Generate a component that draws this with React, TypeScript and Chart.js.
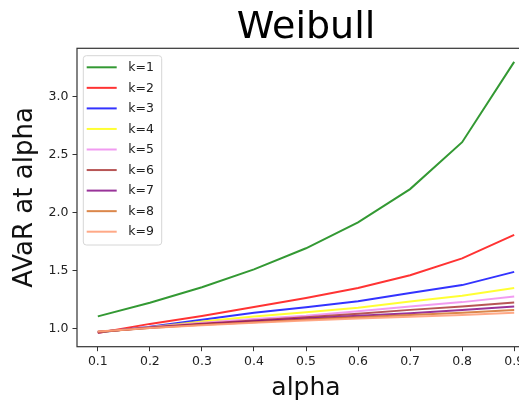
import React, { useEffect, useRef } from "react";
import { Chart, registerables } from "chart.js";

Chart.register(...registerables);

const alphas = [0.1, 0.2, 0.3, 0.4, 0.5, 0.6, 0.7, 0.8, 0.9];
const labels = ["k=1", "k=2", "k=3", "k=4", "k=5", "k=6", "k=7", "k=8", "k=9"];
const k1 = [1.105, 1.223, 1.357, 1.511, 1.693, 1.916, 2.204, 2.609, 3.303];
const k2 = [0.961, 1.04, 1.108, 1.185, 1.263, 1.35, 1.46, 1.606, 1.809];
const k3 = [0.965, 1.016, 1.075, 1.137, 1.184, 1.235, 1.306, 1.375, 1.489];
const k4 = [0.968, 1.012, 1.06, 1.103, 1.14, 1.18, 1.233, 1.283, 1.35];
const k5 = [0.97, 1.01, 1.05, 1.083, 1.111, 1.15, 1.19, 1.228, 1.277];
const k6 = [0.971, 1.008, 1.042, 1.07, 1.097, 1.127, 1.161, 1.19, 1.224];
const k7 = [0.972, 1.006, 1.036, 1.062, 1.087, 1.11, 1.132, 1.161, 1.19];
const k8 = [0.973, 1.005, 1.032, 1.055, 1.077, 1.097, 1.117, 1.137, 1.16];
const k9 = [0.974, 1.004, 1.028, 1.05, 1.07, 1.087, 1.102, 1.117, 1.137];
const series = [k1, k2, k3, k4, k5, k6, k7, k8, k9];
const colors = [
  "rgba(0,128,0,0.8)",
  "rgba(255,0,0,0.8)",
  "rgba(0,0,255,0.8)",
  "rgba(255,255,0,0.8)",
  "rgba(238,130,238,0.8)",
  "rgba(165,42,42,0.8)",
  "rgba(128,0,128,0.8)",
  "rgba(210,105,30,0.8)",
  "rgba(255,160,122,0.9)",
];
const xTicks = [0.1, 0.2, 0.3, 0.4, 0.5, 0.6, 0.7, 0.8, 0.9];
const yTicks = [1.0, 1.5, 2.0, 2.5, 3.0];

const FONT = "'DejaVu Sans', sans-serif";

const framePlugin = {
  id: "frame",
  afterDatasetsDraw(chart: any) {
    const { ctx, chartArea: a } = chart;
    ctx.save();
    ctx.strokeStyle = "#333";
    ctx.lineWidth = 1.2;
    ctx.strokeRect(a.left, a.top, a.right - a.left, a.bottom - a.top);
    ctx.restore();
  },
};

const legendPlugin = {
  id: "customLegend",
  afterDraw(chart: any) {
    const { ctx, chartArea: a } = chart;
    const x0 = a.left + 6.3;
    const y0 = a.top + 7.4;
    const w = 78.4;
    const rowH = 20.55;
    const h = 189.3;
    ctx.save();
    ctx.beginPath();
    const r = 3;
    ctx.moveTo(x0 + r, y0);
    ctx.lineTo(x0 + w - r, y0);
    ctx.quadraticCurveTo(x0 + w, y0, x0 + w, y0 + r);
    ctx.lineTo(x0 + w, y0 + h - r);
    ctx.quadraticCurveTo(x0 + w, y0 + h, x0 + w - r, y0 + h);
    ctx.lineTo(x0 + r, y0 + h);
    ctx.quadraticCurveTo(x0, y0 + h, x0, y0 + h - r);
    ctx.lineTo(x0, y0 + r);
    ctx.quadraticCurveTo(x0, y0, x0 + r, y0);
    ctx.closePath();
    ctx.fillStyle = "rgba(255,255,255,0.8)";
    ctx.fill();
    ctx.strokeStyle = "#d6d6d6";
    ctx.lineWidth = 1;
    ctx.stroke();
    ctx.font = `12.5px ${FONT}`;
    ctx.textBaseline = "middle";
    ctx.textAlign = "left";
    labels.forEach((lab, i) => {
      const y = y0 + 11.6 + i * rowH;
      ctx.strokeStyle = colors[i];
      ctx.lineWidth = 2;
      ctx.beginPath();
      ctx.moveTo(x0 + 3.4, y);
      ctx.lineTo(x0 + 33.4, y);
      ctx.stroke();
      ctx.fillStyle = "#222";
      ctx.fillText(lab, x0 + 45, y + 0.5);
    });
    ctx.restore();
  },
};

export default function App() {
  const ref = useRef<HTMLCanvasElement>(null);
  useEffect(() => {
    if (!ref.current) return;
    const chart = new Chart(ref.current, {
      type: "line",
      data: {
        datasets: series.map((s, i) => ({
          label: labels[i],
          data: alphas.map((a, j) => ({ x: a, y: s[j] })),
          borderColor: colors[i],
          backgroundColor: colors[i],
          borderWidth: 2,
          pointRadius: 0,
          tension: 0,
          fill: false,
          order: series.length - 1 - i,
        })),
      },
      options: {
        animation: false,
        responsive: false,
        devicePixelRatio: 1,
        layout: { padding: { left: 0, right: 25, top: 0, bottom: 0 } },
        plugins: {
          legend: { display: false },
          tooltip: { enabled: false },
          title: {
            display: true,
            text: "Weibull",
            fullSize: false,
            color: "#000",
            font: { family: FONT, size: 38, weight: "normal", lineHeight: 1 },
            padding: { top: 9.6, bottom: 0.7 },
          },
        },
        scales: {
          x: {
            type: "linear",
            min: 0.06,
            max: 0.94,
            afterBuildTicks: (scale: any) => {
              scale.ticks = xTicks.map((v) => ({ value: v }));
            },
            afterFit: (scale: any) => {
              scale.height = 55.3;
            },
            ticks: {
              color: "#222",
              font: { family: FONT, size: 12.5 },
              padding: 3,
              maxRotation: 0,
              autoSkip: false,
              callback: (v: any) => Number(v).toFixed(1),
            },
            grid: {
              drawOnChartArea: false,
              drawTicks: true,
              tickLength: 4.5,
              color: "#333",
              lineWidth: 1,
            },
            border: { display: false },
            title: {
              display: true,
              text: "alpha",
              color: "#111",
              font: { family: FONT, size: 25, lineHeight: 1 },
              padding: { top: 0, bottom: 1.5 },
            },
          },
          y: {
            type: "linear",
            min: 0.843,
            max: 3.42,
            afterBuildTicks: (scale: any) => {
              scale.ticks = yTicks.map((v) => ({ value: v }));
            },
            afterFit: (scale: any) => {
              scale.width = 77;
            },
            ticks: {
              color: "#222",
              font: { family: FONT, size: 12.5 },
              padding: 4,
              autoSkip: false,
              callback: (v: any) => Number(v).toFixed(1),
            },
            grid: {
              drawOnChartArea: false,
              drawTicks: true,
              tickLength: 4.5,
              color: "#333",
              lineWidth: 1,
            },
            border: { display: false },
            title: {
              display: true,
              text: "AVaR at alpha",
              color: "#111",
              font: { family: FONT, size: 26, lineHeight: 1 },
              padding: { top: 12, bottom: 0 },
            },
          },
        },
      },
      plugins: [framePlugin, legendPlugin],
    } as any);
    return () => chart.destroy();
  }, []);

  return (
    <div
      style={{
        position: "fixed",
        left: 0,
        top: 0,
        width: 519,
        height: 402,
        overflow: "hidden",
        background: "#fff",
      }}
    >
      <canvas ref={ref} width={560} height={402} style={{ display: "block", width: 560, height: 402 }} />
    </div>
  );
}
